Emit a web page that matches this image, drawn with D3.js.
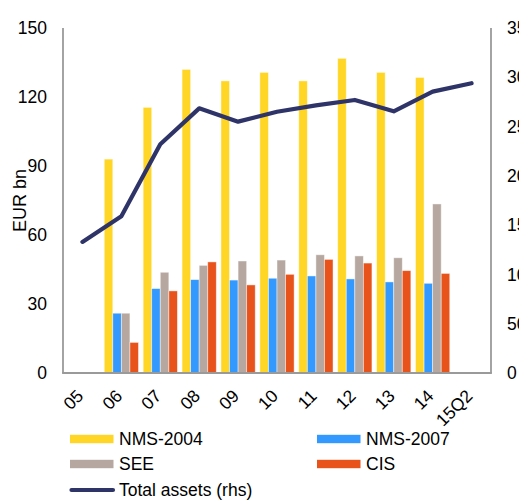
<!DOCTYPE html>
<html>
<head>
<meta charset="utf-8">
<script src="https://cdn.jsdelivr.net/npm/d3@7"></script>
<style>
  html, body { margin: 0; padding: 0; background: #fff; }
  svg { display: block; font-family: "Liberation Sans", Arial, sans-serif; }
</style>
</head>
<body>
<svg id="chart" width="519" height="500"></svg>
<script>
const categories = ["05", "06", "07", "08", "09", "10", "11", "12", "13", "14", "15Q2"];
const nms2004 = [null, 93, 115.5, 132, 127, 130.7, 127, 136.8, 130.7, 128.5, null];
const nms2007 = [null, 26, 36.7, 40.6, 40.4, 41.2, 42.2, 40.9, 39.6, 39, null];
const see     = [null, 26, 43.8, 46.8, 48.7, 49.1, 51.4, 50.9, 50.1, 73.5, null];
const cis     = [null, 13.3, 35.7, 48.3, 38.3, 42.9, 49.4, 47.8, 44.5, 43.3, null];
const totalAssets = [133, 159, 232, 268.5, 255, 265, 271.5, 277, 265.5, 285.5, 294];
const leftTicks = [0, 30, 60, 90, 120, 150];
const rightTicks = [0, 50, 100, 150, 200, 250, 300, 350];
const seriesNames = ["NMS-2004", "NMS-2007", "SEE", "CIS"];
const seriesValues = [nms2004, nms2007, see, cis];
const seriesColors = ["#FFD625", "#3399FF", "#B6A8A0", "#E8531C"];
const lineName = "Total assets (rhs)";
const lineColor = "#2E3468";

const svg = d3.select("#chart");
const L = 63, R = 491, T = 28, B = 373;
const fs = "17.5px";

const x = d3.scaleBand().domain(categories).range([L, R]).padding(0);
const bw = x.bandwidth();
const xs = d3.scaleBand().domain(seriesNames).range([bw * 0.06, bw * 0.94]).padding(0);
const yL = d3.scaleLinear().domain([0, 150]).range([B, T]);
const yR = d3.scaleLinear().domain([0, 350]).range([B, T]);

// bars
seriesNames.forEach((name, si) => {
  const data = categories.map((c, i) => ({ c, v: seriesValues[si][i] })).filter(d => d.v != null);
  svg.append("g").selectAll("rect").data(data).join("rect")
    .attr("x", d => x(d.c) + xs(name))
    .attr("width", xs.bandwidth())
    .attr("y", d => yL(d.v))
    .attr("height", d => B - yL(d.v))
    .attr("fill", seriesColors[si])
    .attr("stroke", "#fff")
    .attr("stroke-opacity", 0.55)
    .attr("stroke-width", 0.8);
});

// axes lines
const axisColor = "#9a9a9a";
svg.append("line").attr("x1", L).attr("x2", L).attr("y1", T).attr("y2", B)
  .attr("stroke", axisColor).attr("stroke-width", 1.8);
svg.append("line").attr("x1", R).attr("x2", R).attr("y1", T).attr("y2", B)
  .attr("stroke", axisColor).attr("stroke-width", 1.8);
svg.append("line").attr("x1", L - 0.9).attr("x2", R + 0.9).attr("y1", B).attr("y2", B)
  .attr("stroke", axisColor).attr("stroke-width", 1.8);

// line
const line = d3.line().x((d, i) => x(categories[i]) + bw / 2).y(d => yR(d));
svg.append("path").datum(totalAssets).attr("d", line)
  .attr("fill", "none").attr("stroke", lineColor).attr("stroke-width", 4.2)
  .attr("stroke-linejoin", "round").attr("stroke-linecap", "round");

// left axis
const gL = svg.append("g").attr("transform", `translate(${L},0)`)
  .call(d3.axisLeft(yL).tickValues(leftTicks).tickSize(0).tickPadding(16));
gL.select(".domain").remove();
gL.selectAll("text").attr("font-size", fs).attr("font-family", "Liberation Sans, Arial, sans-serif").attr("fill", "#000");

// right axis
const gR = svg.append("g").attr("transform", `translate(${R},0)`)
  .call(d3.axisRight(yR).tickValues(rightTicks).tickSize(0).tickPadding(16));
gR.select(".domain").remove();
gR.selectAll("text").attr("font-size", fs).attr("font-family", "Liberation Sans, Arial, sans-serif").attr("fill", "#000");

// bottom labels
const gB = svg.append("g").attr("transform", `translate(0,${B})`)
  .call(d3.axisBottom(x).tickSize(0).tickPadding(0));
gB.select(".domain").remove();
gB.selectAll("text")
  .attr("font-size", fs).attr("font-family", "Liberation Sans, Arial, sans-serif").attr("fill", "#000")
  .attr("text-anchor", "end")
  .attr("dy", null).attr("y", 0)
  .attr("transform", "translate(-7,15) rotate(-45)")
  .attr("dominant-baseline", "hanging");

// y label
svg.append("text")
  .attr("transform", `translate(26,${(T + B) / 2}) rotate(-90)`)
  .attr("text-anchor", "middle")
  .attr("font-size", "18px").attr("fill", "#000")
  .text("EUR bn");

// legend
const legendItems = [
  { name: seriesNames[0], color: seriesColors[0], x: 70, y: 439, type: "rect" },
  { name: seriesNames[1], color: seriesColors[1], x: 317, y: 439, type: "rect" },
  { name: seriesNames[2], color: seriesColors[2], x: 70, y: 464, type: "rect" },
  { name: seriesNames[3], color: seriesColors[3], x: 317, y: 464, type: "rect" },
  { name: lineName, color: lineColor, x: 70, y: 490, type: "line" }
];
const lg = svg.append("g").selectAll("g").data(legendItems).join("g")
  .attr("transform", d => `translate(${d.x},${d.y})`);
lg.filter(d => d.type === "rect").append("rect")
  .attr("x", 0).attr("y", -4.2).attr("width", 43.5).attr("height", 8.4)
  .attr("fill", d => d.color);
lg.filter(d => d.type === "line").append("line")
  .attr("x1", 1.5).attr("x2", 43).attr("y1", 0).attr("y2", 0)
  .attr("stroke", d => d.color).attr("stroke-width", 4.2).attr("stroke-linecap", "round");
lg.append("text")
  .attr("x", 49).attr("y", 0).attr("dy", "0.36em")
  .attr("font-size", fs).attr("fill", "#000")
  .text(d => d.name);
</script>
</body>
</html>
